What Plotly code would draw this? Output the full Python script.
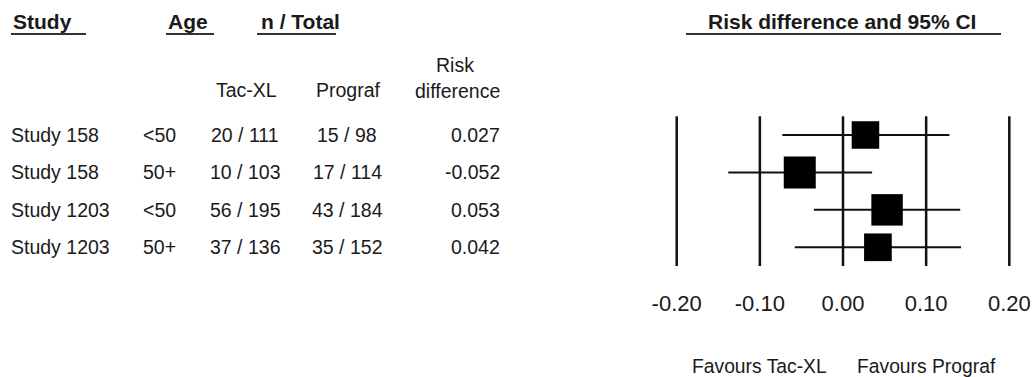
import math
import plotly.graph_objects as go

# ---------------- data ----------------
studies = ["Study 158", "Study 158", "Study 1203", "Study 1203"]
ages = ["<50", "50+", "<50", "50+"]
tacxl_n = [20, 10, 56, 37]
tacxl_total = [111, 103, 195, 136]
prograf_n = [15, 17, 43, 35]
prograf_total = [98, 114, 184, 152]
risk_diff = [0.027, -0.052, 0.053, 0.042]
ci_low = [-0.073, -0.138, -0.035, -0.058]
ci_high = [0.128, 0.035, 0.141, 0.142]
tick_vals = [-0.20, -0.10, 0.00, 0.10, 0.20]
tick_text = ["-0.20", "-0.10", "0.00", "0.10", "0.20"]
favour_labels = ["Favours Tac-XL", "Favours Prograf"]
favour_pos = [-0.10, 0.10]

# ---------------- layout helpers ----------------
W, H = 1033, 377
FONT = "Liberation Sans, Arial, sans-serif"
INK = "#1a1a1a"


def px(x):
    return x / W


def py(y):
    return 1 - y / H


rows = list(range(1, len(studies) + 1))

fig = go.Figure()

# vertical reference lines at each tick
for tv in tick_vals:
    fig.add_trace(go.Scatter(
        x=[tv, tv], y=[0.5, len(rows) + 0.5], mode="lines", opacity=1,
        line=dict(color="#111111", width=2.5), hoverinfo="skip", showlegend=False))

# confidence intervals
for r, lo, hi in zip(rows, ci_low, ci_high):
    fig.add_trace(go.Scatter(
        x=[lo, hi], y=[r, r], mode="lines", opacity=1,
        line=dict(color="#111111", width=2), hoverinfo="skip", showlegend=False))

# squares sized by inverse-variance weight
se = [(h - l) / (2 * 1.96) for l, h in zip(ci_low, ci_high)]
w = [1 / s ** 2 for s in se]
wmax = max(w)
sizes = [32 * math.sqrt(v / wmax) for v in w]
fig.add_trace(go.Scatter(
    x=risk_diff, y=rows, mode="markers", opacity=1,
    marker=dict(symbol="square", size=sizes, color="#000000", opacity=1,
                line=dict(width=0, color="#000000")),
    hoverinfo="skip", showlegend=False))

annotations = []


def add_text(text, x, y, xanchor="left", size=19.5, bold=False, yref="paper"):
    annotations.append(dict(
        text=f"<b>{text}</b>" if bold else text,
        x=x, y=y, xref="paper", yref=yref,
        xanchor=xanchor, yanchor="middle", showarrow=False,
        font=dict(family=FONT, size=size, color=INK)))


# headers
add_text("Study", px(11), py(21), bold=True, size=21)
add_text("Age", px(166), py(21), bold=True, size=21)
add_text("n / Total", px(259), py(21), bold=True, size=21)
add_text("Risk difference and 95% CI", px(842), py(21), xanchor="center", bold=True, size=21)
add_text("Tac-XL", px(246), py(90), xanchor="center")
add_text("Prograf", px(348), py(90), xanchor="center")
add_text("Risk", px(455), py(65), xanchor="center")
add_text("difference", px(457), py(91), xanchor="center")

# table rows
for r, s, a, tn, tt, pn, pt, rd in zip(rows, studies, ages, tacxl_n, tacxl_total,
                                       prograf_n, prograf_total, risk_diff):
    add_text(s, px(9), r, yref="y")
    add_text(a, px(141), r, yref="y")
    add_text(f"{tn} / {tt}", px(245), r, xanchor="center", yref="y")
    add_text(f"{pn} / {pt}", px(347), r, xanchor="center", yref="y")
    add_text(f"{rd:.3f}", px(502), r, xanchor="right", yref="y")

# favours labels (x in data units)
for lab, pos in zip(favour_labels, favour_pos):
    annotations.append(dict(
        text=lab, x=pos, y=py(366), xref="x", yref="paper",
        xanchor="center", yanchor="middle", showarrow=False,
        font=dict(family=FONT, size=19.3, color=INK)))

# header underlines
shapes = []
for x0, x1 in [(11, 86), (166, 214), (257, 336), (686, 1001)]:
    shapes.append(dict(type="line", xref="paper", yref="paper",
                       x0=px(x0), x1=px(x1), y0=py(34), y1=py(34),
                       line=dict(color="#333333", width=2)))

# axis geometry: -0.2 at x=676.7px, 0.2 at x=1009.3px
scale = (1009.3 - 676.7) / 0.4
dom_left = 620
x_left = -0.2 - (676.7 - dom_left) / scale
x_right = 0.2 + (W - 1009.3) / scale

row_px0, row_step = 135.0, 37.43
plot_bottom = 288
y_top = 1 - row_px0 / row_step
y_bottom = 1 + (plot_bottom - row_px0) / row_step

fig.update_layout(
    width=W, height=H,
    margin=dict(l=0, r=0, t=0, b=0),
    paper_bgcolor="white", plot_bgcolor="white",
    xaxis=dict(domain=[px(dom_left), 1], range=[x_left, x_right],
               showgrid=False, zeroline=False, showline=False,
               tickvals=tick_vals, ticktext=tick_text, ticks="",
               tickfont=dict(family=FONT, size=22, color=INK)),
    yaxis=dict(domain=[1 - plot_bottom / H, 1], range=[y_bottom, y_top],
               visible=False, showgrid=False, zeroline=False),
    annotations=annotations,
    shapes=shapes,
    showlegend=False,
)

fig.write_html("out.html")
